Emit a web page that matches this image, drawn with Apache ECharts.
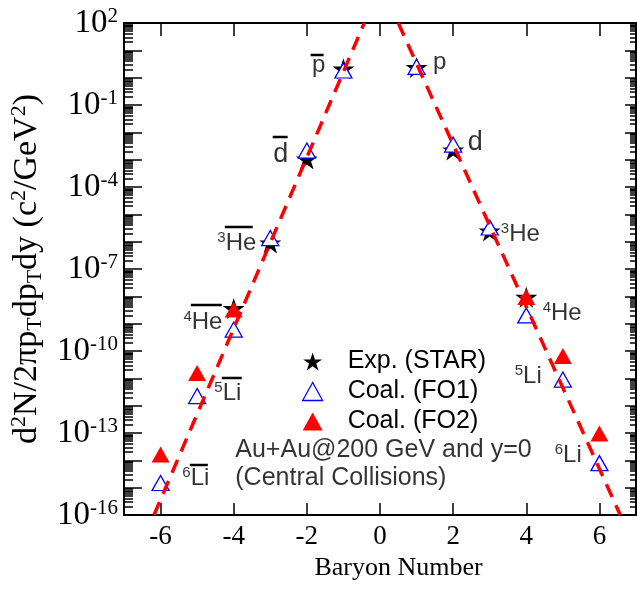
<!DOCTYPE html>
<html><head><meta charset="utf-8">
<script src="https://cdn.jsdelivr.net/npm/echarts@6/dist/echarts.min.js"></script>
<style>html,body{margin:0;padding:0;background:#fff}#c{width:637px;height:591px}</style>
</head><body><div id="c"></div>
<script>
// ---- data ----
const xTicks = [-6, -4, -2, 0, 2, 4, 6];
const yTickExponents = [-16, -13, -10, -7, -4, -1, 2];
const seriesNames = ['Exp. (STAR)', 'Coal. (FO1)', 'Coal. (FO2)'];
const starX = [-4, -3, -2, -1, 1, 2, 3, 4];
const starY = [3.6e-9, 8.9e-7, 1.06e-3, 2.1, 2.35, 2.25e-3, 2.45e-6, 9.3e-9];
const fo1X = [-6, -5, -4, -3, -2, -1, 1, 2, 3, 4, 5, 6];
const fo1Y = [1.48e-15, 2.25e-12, 6.1e-10, 1.36e-6, 2.16e-3, 1.83, 2.5, 3.58e-3, 3.3e-6, 2.0e-9, 9.0e-12, 7.9e-15];
const fo2X = [-6, -5, -4, 4, 5, 6];
const fo2Y = [1.63e-14, 1.56e-11, 3.3e-9, 9.5e-9, 6.5e-11, 9.5e-14];
const fitLeftX = [-6.18, -0.43];
const fitLeftY = [1e-16, 1e2];
const fitRightX = [0.50, 6.57];
const fitRightY = [1e2, 1e-16];

// ---- build ----
const L = v => Math.log10(v);
const pts = (xs, ys) => xs.map((x, i) => [x, L(ys[i])]);

const decadeVals = [];
for (let n = -16; n <= 2; n++) decadeVals.push(n);
const minorVals = [];
for (let n = -16; n < 2; n++) for (let k = 2; k <= 9; k++) minorVals.push(n + Math.log10(k));

const STAR = 'path://M0,-1L0.2245,-0.309L0.951,-0.309L0.363,0.118L0.588,0.809L0,0.382L-0.588,0.809L-0.363,0.118L-0.951,-0.309L-0.2245,-0.309Z';
const serif = 'Liberation Serif';
const sans = 'Liberation Sans';
const tickStyle = { color: '#000', width: 1.5 };

// annotation anchors (x in baryon number, y in log10 units)
const annotations = [
  [-1.870, 0.463, '{m|p}'],
  [1.433, 0.573, '{m|p}'],
  [-2.934, -2.830, '{d|d}'],
  [2.388, -2.391, '{d|d}'],
  [-4.462, -6.068, '{s|3}{m|He}'],
  [3.289, -5.720, '{s|3}{m|He}'],
  [-5.390, -8.958, '{s|4}{m|He}'],
  [4.435, -8.629, '{s|4}{m|He}'],
  [-4.544, -11.538, '{s|5}{m|Li}'],
  [3.671, -10.934, '{s|5}{m|Li}'],
  [-5.418, -14.648, '{s|6}{m|Li}'],
  [4.763, -13.807, '{s|6}{m|Li}'],
  [-3.971, -14.136, '{t|Au+Au@200 GeV and y=0}\n{t|(Central Collisions)}']
];
const overlines = [
  [-1.897, -1.542, 0.829],
  [-2.934, -2.525, -2.171],
  [-4.244, -3.480, -5.464],
  [-5.172, -4.326, -8.318],
  [-4.326, -3.780, -10.989],
  [-5.199, -4.708, -14.173]
];

const yBase = {
  type: 'value', min: -16, max: 2, gridIndex: 0,
  splitLine: { show: false }, axisLabel: { show: false },
  axisLine: { show: false, onZero: false }
};

const series = [
  { name: seriesNames[0], type: 'scatter', data: pts(starX, starY), symbol: STAR, symbolSize: [22, 21],
    itemStyle: { color: '#000', opacity: 1 }, z: 2 },
  { name: seriesNames[2], type: 'scatter', data: pts(fo2X, fo2Y), symbol: 'triangle', symbolSize: [18, 16],
    itemStyle: { color: '#ff0000', opacity: 1 }, z: 3 },
  { name: seriesNames[1], type: 'scatter', data: pts(fo1X, fo1Y), symbol: 'triangle', symbolSize: [17, 15],
    itemStyle: { color: '#ffffff', borderColor: '#0000ff', borderWidth: 1.3, opacity: 1 }, z: 4 },
  { type: 'line', data: pts(fitLeftX, fitLeftY), symbol: 'none', z: 6,
    lineStyle: { color: '#ff0000', width: 3.5, type: [14, 9] } },
  { type: 'line', data: pts(fitRightX, fitRightY), symbol: 'none', z: 6,
    lineStyle: { color: '#ff0000', width: 3.5, type: [14, 9] } }
];
overlines.forEach(o => series.push({
  type: 'line', data: [[o[0], o[2]], [o[1], o[2]]], symbol: 'none', z: 7, silent: true,
  lineStyle: { color: '#000', width: 2.5 }
}));
series.push({
  type: 'scatter', silent: true, z: 8, symbolSize: 1, itemStyle: { color: 'rgba(0,0,0,0)' },
  data: annotations.map(a => ({ value: [a[0], a[1]], label: { formatter: a[2] } })),
  label: {
    show: true, position: 'right', distance: 0, align: 'left', verticalAlign: 'middle', color: '#000',
    fontFamily: sans, fontSize: 24,
    rich: {
      m: { fontFamily: sans, fontSize: 24, lineHeight: 26, color: '#000' },
      d: { fontFamily: sans, fontSize: 27, lineHeight: 28, color: '#000' },
      s: { fontFamily: sans, fontSize: 15, lineHeight: 15, verticalAlign: 'top', color: '#000' },
      t: { fontFamily: sans, fontSize: 25, lineHeight: 28, color: '#000' }
    }
  }
});

const option = {
  animation: false,
  backgroundColor: '#fff',
  grid: { left: 124, top: 23, right: 1, bottom: 76, outerBoundsMode: 'none' },
  legend: {
    orient: 'vertical', left: 297, top: 344, itemWidth: 20, itemHeight: 18, itemGap: 5,
    selectedMode: false,
    data: [
      { name: seriesNames[0], itemStyle: { color: '#000', opacity: 1 } },
      { name: seriesNames[1], itemStyle: { color: '#ffffff', borderColor: '#0000ff', borderWidth: 1.3, opacity: 1 } },
      { name: seriesNames[2], itemStyle: { color: '#ff0000', opacity: 1 } }
    ],
    formatter: n => '{g| }{t|' + n + '}',
    textStyle: {
      fontFamily: sans, fontSize: 25, color: '#000', lineHeight: 25,
      rich: { g: { width: 20, fontSize: 25, lineHeight: 25 }, t: { fontFamily: sans, fontSize: 25, lineHeight: 25, color: '#000' } }
    }
  },
  xAxis: [
    { type: 'value', min: -7, max: 7, position: 'bottom', gridIndex: 0,
      axisLine: { onZero: false, lineStyle: { color: '#000', width: 2 } },
      axisTick: { inside: true, length: 12, customValues: xTicks, lineStyle: tickStyle },
      axisLabel: { customValues: xTicks, fontFamily: serif, fontSize: 27, color: '#000', margin: 8 },
      splitLine: { show: false },
      name: 'Baryon Number', nameLocation: 'middle', nameGap: 37,
      nameTextStyle: { fontFamily: serif, fontSize: 26, color: '#000', padding: [0, 0, 0, 37] } },
    { type: 'value', min: -7, max: 7, position: 'top', gridIndex: 0,
      axisLine: { onZero: false, lineStyle: { color: '#000', width: 2 } },
      axisTick: { inside: true, length: 13, customValues: xTicks, lineStyle: tickStyle },
      axisLabel: { show: false }, splitLine: { show: false } }
  ],
  yAxis: [
    Object.assign({}, yBase, {
      position: 'left',
      axisLine: { show: true, onZero: false, lineStyle: { color: '#000', width: 2 } },
      axisTick: { show: true, inside: true, length: 18, customValues: decadeVals, lineStyle: tickStyle },
      axisLabel: {
        show: true, customValues: yTickExponents, margin: 6,
        formatter: v => '{b|10}{s|' + Math.round(v) + '}',
        rich: {
          b: { fontFamily: serif, fontSize: 33, lineHeight: 34, color: '#000' },
          s: { fontFamily: serif, fontSize: 21, lineHeight: 21, verticalAlign: 'top', color: '#000' }
        }
      },
      name: '{m|d}{p|2}{m|N/2πp}{b|T}{m|dp}{b|T}{m|dy (c}{p|2}{m|/GeV}{p|2}{m|)}',
      nameLocation: 'middle', nameGap: 76,
      nameTextStyle: {
        fontFamily: serif, color: '#000',
        rich: {
          m: { fontFamily: serif, fontSize: 34, lineHeight: 38, color: '#000' },
          p: { fontFamily: serif, fontSize: 22, lineHeight: 22, verticalAlign: 'top', color: '#000' },
          b: { fontFamily: serif, fontSize: 22, lineHeight: 22, verticalAlign: 'bottom', color: '#000' }
        }
      }
    }),
    Object.assign({}, yBase, { position: 'left',
      axisTick: { show: true, inside: true, length: 9, customValues: minorVals, lineStyle: tickStyle } }),
    Object.assign({}, yBase, { position: 'right',
      axisLine: { show: true, onZero: false, lineStyle: { color: '#000', width: 2 } },
      axisTick: { show: true, inside: true, length: 11, customValues: decadeVals, lineStyle: tickStyle } }),
    Object.assign({}, yBase, { position: 'right',
      axisTick: { show: true, inside: true, length: 6, customValues: minorVals, lineStyle: tickStyle } })
  ],
  series: series
};

const chart = echarts.init(document.getElementById('c'), null, { renderer: 'canvas' });
chart.setOption(option);
</script>
</body></html>
